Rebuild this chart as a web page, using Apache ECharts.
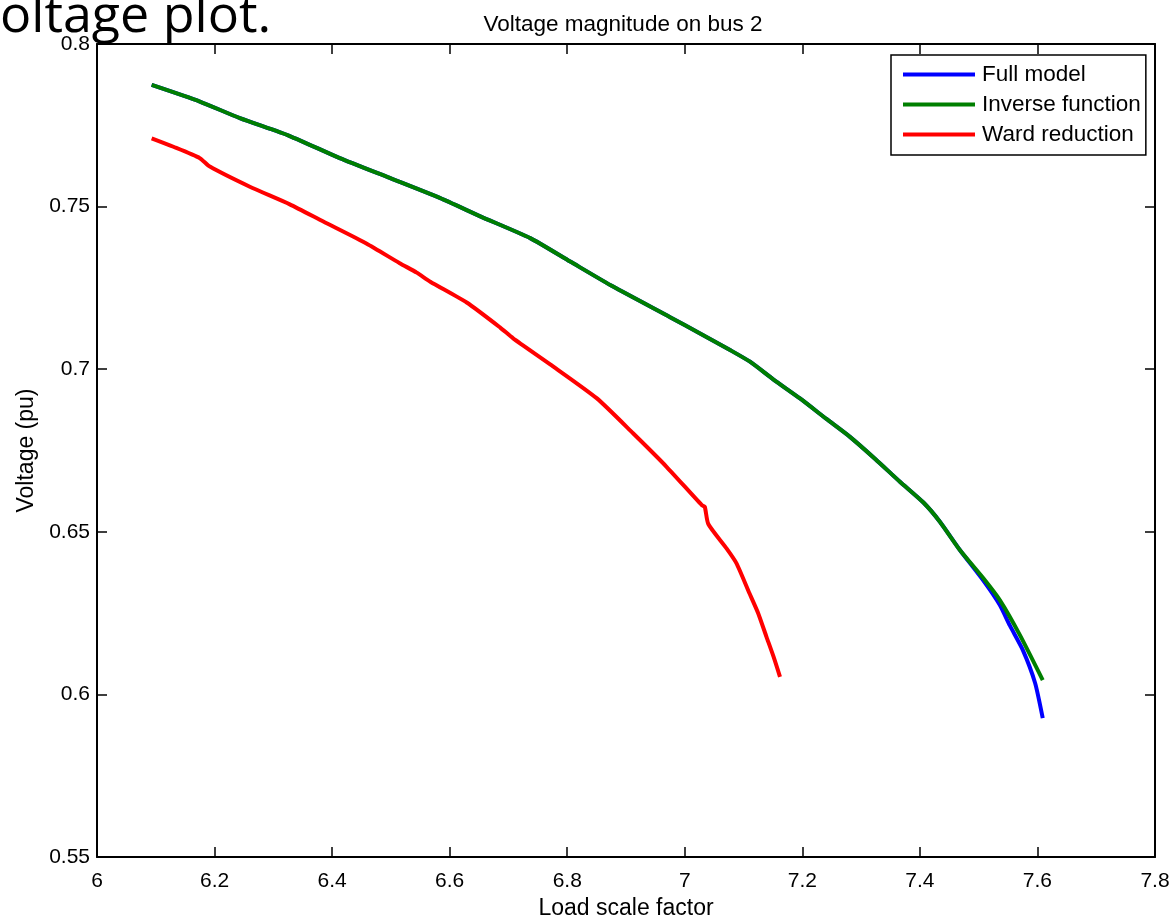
<!DOCTYPE html>
<html>
<head>
<meta charset="utf-8">
<script src="https://cdn.jsdelivr.net/npm/echarts@6/dist/echarts.min.js"></script>
<style>
  html, body { margin: 0; padding: 0; background: #fff; }
  #chart { width: 1174px; height: 919px; }
</style>
</head>
<body>
<div id="chart"></div>
<script>
// 数据
var fullX = [6.093, 6.175, 6.243, 6.328, 6.413, 6.498, 6.584, 6.652, 6.737, 6.805, 6.878, 6.975, 7.026, 7.077, 7.111, 7.151, 7.196, 7.241, 7.281, 7.324, 7.366, 7.406, 7.434, 7.468, 7.508, 7.536, 7.553, 7.575, 7.596, 7.609];
var fullY = [0.7874, 0.7823, 0.7772, 0.7717, 0.7649, 0.7588, 0.7526, 0.7470, 0.7403, 0.7331, 0.7254, 0.7160, 0.7110, 0.7059, 0.7023, 0.6968, 0.6910, 0.6847, 0.6792, 0.6724, 0.6654, 0.6590, 0.6531, 0.6444, 0.6350, 0.6275, 0.6212, 0.6137, 0.6035, 0.5927];
var invX = [6.093, 6.175, 6.243, 6.328, 6.413, 6.498, 6.584, 6.652, 6.737, 6.805, 6.878, 6.975, 7.026, 7.077, 7.111, 7.151, 7.196, 7.241, 7.281, 7.324, 7.366, 7.406, 7.434, 7.468, 7.508, 7.536, 7.570, 7.609];
var invY = [0.7874, 0.7823, 0.7772, 0.7717, 0.7649, 0.7588, 0.7526, 0.7470, 0.7403, 0.7331, 0.7254, 0.7160, 0.7110, 0.7059, 0.7023, 0.6968, 0.6910, 0.6847, 0.6792, 0.6724, 0.6654, 0.6590, 0.6531, 0.6444, 0.6357, 0.6290, 0.6183, 0.6044];
var wardX = [6.093, 6.130, 6.175, 6.192, 6.260, 6.328, 6.385, 6.459, 6.515, 6.544, 6.567, 6.629, 6.686, 6.708, 6.771, 6.850, 6.912, 6.969, 7.029, 7.034, 7.040, 7.071, 7.088, 7.110, 7.125, 7.139, 7.151, 7.162];
var wardY = [0.7710, 0.7684, 0.7649, 0.7623, 0.7561, 0.7507, 0.7454, 0.7386, 0.7326, 0.7297, 0.7269, 0.7205, 0.7128, 0.7095, 0.7015, 0.6911, 0.6803, 0.6700, 0.6582, 0.6577, 0.6524, 0.6449, 0.6403, 0.6311, 0.6249, 0.6177, 0.6116, 0.6054];
var names = ['Full model', 'Inverse function', 'Ward reduction'];
var colors = ['#0000ff', '#007f00', '#ff0000'];

function pairs(xs, ys) {
    var out = [];
    for (var i = 0; i < xs.length; i++) {
        out.push([xs[i], ys[i]]);
    }
    return out;
}

var myChart = echarts.init(document.getElementById('chart'));
var font = 'Liberation Sans, Arial, sans-serif';

var xBase = { type: 'value', min: 6, max: 7.8, interval: 0.2, splitLine: { show: false } };
var yBase = { type: 'value', min: 0.55, max: 0.8, interval: 0.05, splitLine: { show: false } };
var axisLine = { show: true, onZero: false, lineStyle: { color: '#000', width: 2 } };
var tick = { show: true, inside: true, length: 10, lineStyle: { color: '#000', width: 1.5 } };

function lineSeries(i, data) {
    return {
        name: names[i], type: 'line', data: data, showSymbol: false,
        smooth: 0.2,
        color: colors[i], lineStyle: { width: 4 }
    };
}

var option = {
    backgroundColor: '#fff',
    animation: false,
    title: {
        text: 'Voltage magnitude on bus 2',
        left: 618,
        textAlign: 'center',
        top: 8,
        textStyle: { fontFamily: font, fontSize: 22.5, fontWeight: 'normal', color: '#000' }
    },
    graphic: [{
        type: 'text',
        left: 0,
        top: -9,
        style: { text: 'oltage plot.', fontFamily: 'Open Sans, sans-serif', fontSize: 52, fill: '#000' }
    }],
    legend: {
        orient: 'vertical',
        left: 891,
        top: 55,
        padding: [8, 5, 9, 12],
        itemGap: 7,
        itemWidth: 72,
        itemHeight: 4,
        icon: 'rect',
        borderColor: '#000',
        borderWidth: 1.5,
        backgroundColor: '#fff',
        textStyle: { fontFamily: font, fontSize: 22.5, color: '#000', lineHeight: 22, padding: [0, 0, 0, 2] },
        data: names
    },
    grid: { left: 97, right: 19, top: 44, bottom: 62, containLabel: false, outerBoundsMode: 'none' },
    xAxis: [
        Object.assign({}, xBase, {
            position: 'bottom',
            name: 'Load scale factor',
            nameLocation: 'middle',
            nameGap: 40,
            nameTextStyle: { fontFamily: font, fontSize: 23, color: '#000' },
            axisLine: axisLine,
            axisTick: tick,
            axisLabel: { margin: 14, fontFamily: font, fontSize: 21, color: '#000' }
        }),
        Object.assign({}, xBase, {
            position: 'top',
            axisLine: axisLine,
            axisTick: tick,
            axisLabel: { show: false }
        })
    ],
    yAxis: [
        Object.assign({}, yBase, {
            position: 'left',
            name: 'Voltage (pu)',
            nameLocation: 'middle',
            nameGap: 58,
            nameTextStyle: { fontFamily: font, fontSize: 23, color: '#000' },
            axisLine: axisLine,
            axisTick: tick,
            axisLabel: { margin: 7, fontFamily: font, fontSize: 21, color: '#000' }
        }),
        Object.assign({}, yBase, {
            position: 'right',
            axisLine: axisLine,
            axisTick: tick,
            axisLabel: { show: false }
        })
    ],
    series: [
        lineSeries(0, pairs(fullX, fullY)),
        lineSeries(1, pairs(invX, invY)),
        lineSeries(2, pairs(wardX, wardY))
    ]
};
myChart.setOption(option);
</script>
</body>
</html>
